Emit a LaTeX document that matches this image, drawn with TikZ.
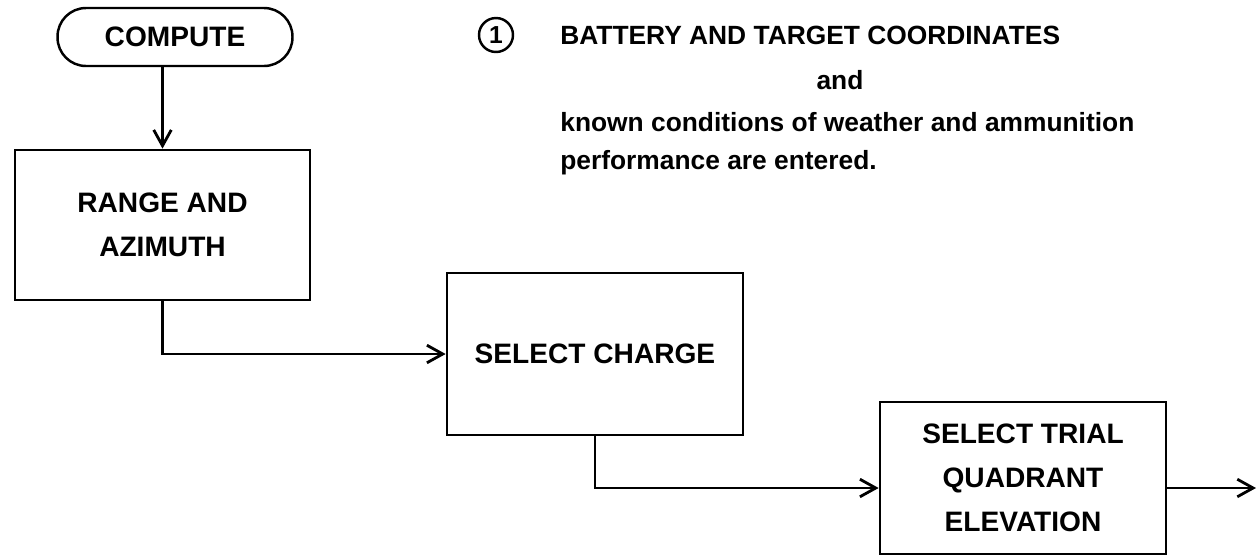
\documentclass[tikz,border=0pt]{standalone}
\usepackage{fontspec}
\setmainfont{Liberation Sans}
\usetikzlibrary{arrows.meta, positioning}

\begin{document}
\begin{tikzpicture}[x=0.02cm, y=-0.02cm,
    box/.style={draw, line width=1.6pt, align=center,
                font=\fontsize{16}{25}\selectfont\bfseries},
    term/.style={draw, line width=1.4pt, rounded corners=0.57cm,
                 minimum width=4.7cm, minimum height=1.16cm,
                 font=\fontsize{16}{19}\selectfont\bfseries},
    arr/.style={line width=1.6pt,
                -{Straight Barb[length=9pt, width=10pt, line width=1.6pt]}},
    note/.style={inner sep=0pt, anchor=west,
                 font=\fontsize{15}{18}\selectfont\bfseries}
  ]
  \useasboundingbox (0,0) rectangle (1257,556);

  \node[term] (compute) at (175,37) {COMPUTE};
  \node[box, minimum width=5.9cm, minimum height=3cm] (range) at (162.5,225)
    {RANGE AND\\AZIMUTH};
  \node[box, minimum width=5.92cm, minimum height=3.24cm] (charge) at (595,354)
    {SELECT CHARGE};
  \node[box, minimum width=5.72cm, minimum height=3.04cm] (trial) at (1023,478)
    {SELECT TRIAL\\QUADRANT\\ELEVATION};

  \node[draw, circle, line width=1.4pt, minimum size=0.68cm, inner sep=0pt,
        font=\fontsize{14}{16}\selectfont\bfseries] (one) at (496,35) {1};
  \node[note] (battery) at (560,35) {BATTERY AND TARGET COORDINATES};
  \node[note, anchor=center] (and) at (840,80) {and};
  \node[note] (known) at (560,122) {known conditions of weather and ammunition};
  \node[note] (perf) at (560,163) {performance are entered.};

  \coordinate (out) at (1256,488);
  \draw[arr] (compute.south -| range.north) -- (range.north);
  \draw[arr] (range.south) |- (charge.west);
  \draw[arr] (charge.south) |- ([yshift=-0.2cm]trial.west);
  \draw[arr] (trial.east |- out) -- (out);
\end{tikzpicture}
\end{document}
